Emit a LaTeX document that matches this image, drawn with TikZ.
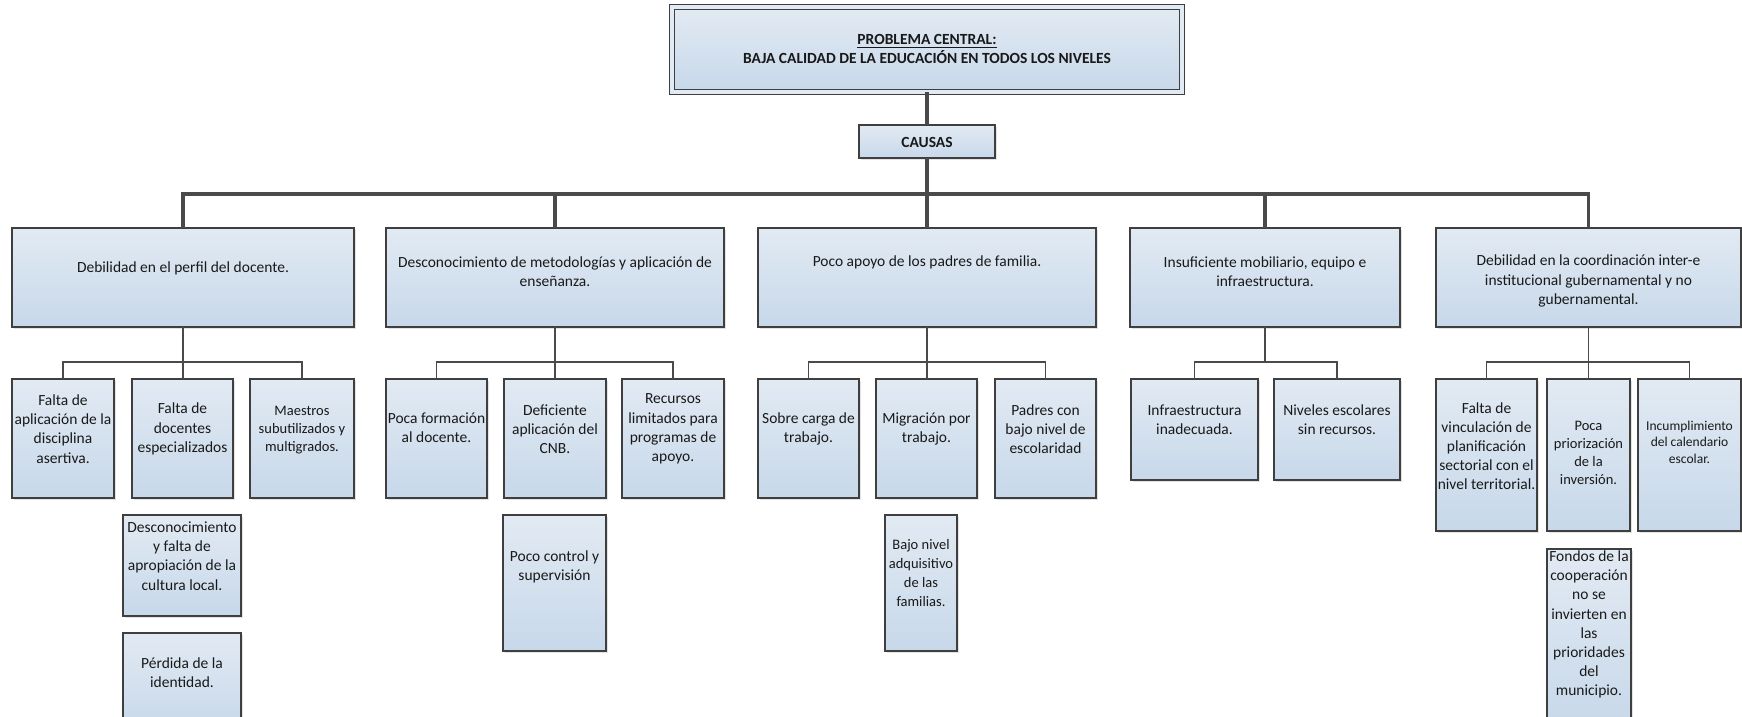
\documentclass[tikz,border=0pt]{standalone}
\usepackage{fontspec}
\setmainfont{Carlito}
\usetikzlibrary{shadows}
\definecolor{borde}{HTML}{3F3F3F}
\definecolor{azulsup}{HTML}{E2EAF3}
\definecolor{azulinf}{HTML}{C7D8EA}
\definecolor{linea}{HTML}{4A4A4A}
\newcommand\pxl{0.71}
\tikzset{
  caja/.style={draw=borde, line width=0.95pt, top color=azulsup, bottom color=azulinf,
    inner sep=0pt, outer sep=0pt,
    drop shadow={shadow xshift=1.2pt, shadow yshift=-1.2pt, opacity=0.22}},
  texto/.style={align=center, inner sep=0pt, text=black!90, font=\fontsize{11}{13.6}\selectfont},
  chico/.style={font=\fontsize{10.3}{12.6}\selectfont},
  tronco/.style={draw=linea, line width=2.2pt},
  rama/.style={draw=linea, line width=1pt},
}
% [text style] name, x1, y1, x2, y2, text y, text
\newcommand\caja[8][]{%
  \pgfmathsetlengthmacro\cw{(#5-#3)*\pxl}%
  \pgfmathsetlengthmacro\ch{(#6-#4)*\pxl}%
  \node[caja, minimum width=\cw, minimum height=\ch] (#2) at ({(#3+#5)/2},{(#4+#6)/2}) {};
  \node[texto,#1] (#2-t) at ({(#3+#5)/2},#7) {#8};}

\begin{document}
\begin{tikzpicture}[x=\pxl pt, y=-\pxl pt]
  \useasboundingbox (0,0) rectangle (1742,717);
  % central problem and causes
  \node[caja, double=azulsup, double distance=2.6pt, line width=0.8pt,
        minimum width=362pt, minimum height=60pt] (principal) at (927,49.5) {};
  \node[texto, font=\fontsize{11}{13}\selectfont\bfseries] (principal-t) at (927,49)
    {\underline{PROBLEMA CENTRAL:}\\BAJA CALIDAD DE LA EDUCACIÓN EN TODOS LOS NIVELES};
  \node[caja, line width=1.6pt, minimum width=96.5pt, minimum height=23.4pt] (causas) at (927,141.5) {};
  \node[texto, font=\fontsize{11}{13}\selectfont\bfseries] (causas-t) at (927,142) {CAUSAS};

  % causes
  \caja{B1}{12}{228}{354}{327}{268}{Debilidad en el perfil del docente.}
  \caja{B2}{386}{228}{724}{327}{271.5}{Desconocimiento de metodologías y aplicación de\\enseñanza.}
  \caja{B3}{758}{228}{1096}{327}{262}{Poco apoyo de los padres de familia.}
  \caja{B4}{1130}{228}{1400}{327}{271.5}{Insuficiente mobiliario, equipo e\\infraestructura.}
  \caja{B5}{1436}{228}{1741}{327}{281}{Debilidad en la coordinación inter-e\\institucional gubernamental y no\\gubernamental.}

  % sub-causes
  \caja{B1a}{12}{379}{114}{498}{429}{Falta de\\aplicación de la\\disciplina\\asertiva.}
  \caja{B1b}{132}{379}{233}{498}{429}{Falta de\\docentes\\especializados}
  \caja[chico]{B1c}{250}{379}{354}{498}{430}{Maestros\\subutilizados y\\multigrados.}
  \caja{B1d}{123}{515}{241}{616}{556}{Desconocimiento\\y falta de\\apropiación de la\\cultura local.}
  \caja{B1e}{123}{633}{241}{730}{673}{Pérdida de la\\identidad.}

  \caja{B2a}{386}{379}{487}{498}{428}{Poca formación\\al docente.}
  \caja{B2b}{504}{379}{606}{498}{429}{Deficiente\\aplicación del\\CNB.}
  \caja{B2c}{622}{379}{724}{498}{429}{Recursos\\limitados para\\programas de\\apoyo.}
  \caja{B2d}{503}{515}{606}{651}{567}{Poco control y\\supervisión}

  \caja{B3a}{758}{379}{859}{498}{429}{Sobre carga de\\trabajo.}
  \caja{B3b}{876}{379}{977}{498}{429}{Migración por\\trabajo.}
  \caja{B3c}{995}{379}{1096}{498}{429}{Padres con\\bajo nivel de\\escolaridad}
  \caja[font=\fontsize{10.3}{13.6}\selectfont]{B3d}{885}{515}{957}{651}{573}{Bajo nivel\\adquisitivo\\de las\\familias.}

  \caja{B4a}{1131}{379}{1258}{480}{420}{Infraestructura\\inadecuada.}
  \caja{B4b}{1274}{379}{1400}{480}{420}{Niveles escolares\\sin recursos.}

  \caja{B5a}{1436}{379}{1537}{531}{446}{Falta de\\vinculación de\\planificación\\sectorial con el\\nivel territorial.}
  \caja[chico]{B5b}{1547}{379}{1630}{531}{453}{Poca\\priorización\\de la\\inversión.}
  \caja[font=\fontsize{9.6}{11.8}\selectfont]{B5c}{1638}{379}{1741}{531}{442}{Incumplimiento\\del calendario\\escolar.}
  \caja{B5d}{1547}{549}{1631}{730}{624.5}{Fondos de la\\cooperación\\no se\\invierten en\\las\\prioridades\\del\\municipio.}

  % main trunk and bus
  \coordinate (bus) at (927,194);
  \draw[tronco] (principal.south) -- (causas.north);
  \draw[tronco] (causas.south) -- (B3.north);
  \draw[tronco] (B1.north) |- (bus) -| (B5.north);
  \foreach \n in {B2,B4} \draw[tronco] (\n.north) -- (\n.north |- bus);

  % branches to sub-causes
  \foreach \p/\a/\b in {B1/B1a/B1c, B2/B2a/B2c, B3/B3a/B3c, B5/B5a/B5c}{
    \draw[rama] (\a.north) -- ++(0,-17) -| (\b.north);
    \draw[rama] (\p.south) -- (\p.south |- \a.north);
  }
  \draw[rama] (B4a.north) -- ++(0,-17) -| (B4b.north);
  \draw[rama] (B4.south) -- ++(0,35);
\end{tikzpicture}
\end{document}
